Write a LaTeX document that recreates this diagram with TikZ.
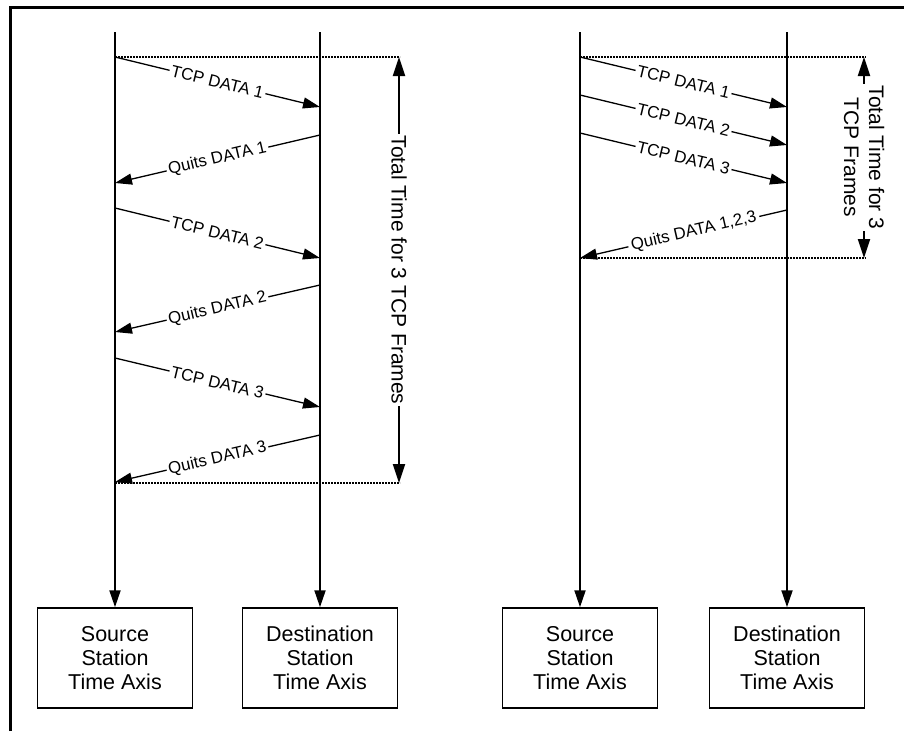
\documentclass[tikz,border=0pt]{standalone}
\usepackage{fontspec}
\setmainfont{Liberation Sans}
\usetikzlibrary{arrows.meta}
\begin{document}
\begin{tikzpicture}[x=1pt,y=-1pt,
  axisline/.style={line width=2pt,-{Triangle[length=17pt,width=11pt]}},
  msg/.style={line width=1.3pt,-{Triangle[length=17pt,width=11pt]}},
  msglabel/.style={midway,sloped,fill=white,inner sep=2pt,font=\fontsize{16.8}{19}\selectfont},
  timebar/.style={line width=2pt,{Triangle[length=19pt,width=12pt]}-{Triangle[length=19pt,width=12pt]}},
  timelabel/.style={midway,rotate=-90,fill=white,inner sep=2pt,font=\fontsize{21}{25}\selectfont,align=center},
  dotline/.style={line width=1.8pt,dash pattern=on 2pt off 1pt},
  station/.style={draw,line width=1.5pt,minimum width=155pt,minimum height=100pt,align=center,inner sep=0pt,font=\fontsize{21.5}{24}\selectfont},
  frameline/.style={line width=3.5pt}]

\useasboundingbox (0,0) rectangle (904,731);

% open frame: top and left edges only
\draw[frameline] (10.5,731) -- (10.5,7.5) -- (904,7.5);

% ---------- left exchange: one acknowledgement per frame ----------
\node[station] (srcL) at (115,658) {Source\\Station\\Time Axis};
\node[station] (dstL) at (320,658) {Destination\\Station\\Time Axis};
\coordinate (srcLtop) at (115,32);
\coordinate (dstLtop) at (320,32);

\coordinate (l0) at (115,57);   \coordinate (l0e) at (400,57);
\coordinate (l9) at (115,483);  \coordinate (l9e) at (400,483);
\draw[dotline] (l0) -- (l0e);
\draw[dotline] (l9) -- (l9e);

\draw[axisline] (srcLtop) -- (srcL.north);
\draw[axisline] (dstLtop) -- (dstL.north);

\coordinate (l1s) at (115,57);  \coordinate (l1d) at (320,107);
\coordinate (l2d) at (320,135); \coordinate (l2s) at (115,183);
\coordinate (l3s) at (115,208); \coordinate (l3d) at (320,258);
\coordinate (l4d) at (320,285); \coordinate (l4s) at (115,332);
\coordinate (l5s) at (115,358); \coordinate (l5d) at (320,407);
\coordinate (l6d) at (320,435); \coordinate (l6s) at (115,482);

\draw[msg] (l1s) -- node[msglabel] {TCP DATA 1} (l1d);
\draw[msg] (l2d) -- node[msglabel] {Quits DATA 1} (l2s);
\draw[msg] (l3s) -- node[msglabel] {TCP DATA 2} (l3d);
\draw[msg] (l4d) -- node[msglabel] {Quits DATA 2} (l4s);
\draw[msg] (l5s) -- node[msglabel] {TCP DATA 3} (l5d);
\draw[msg] (l6d) -- node[msglabel] {Quits DATA 3} (l6s);

\coordinate (tLtop) at (399,57);
\coordinate (tLbot) at (399,483);
\draw[timebar] (tLtop) -- node[timelabel] {Total Time for 3 TCP Frames} (tLbot);

% ---------- right exchange: one acknowledgement for three frames ----------
\node[station] (srcR) at (580,658) {Source\\Station\\Time Axis};
\node[station] (dstR) at (787,658) {Destination\\Station\\Time Axis};
\coordinate (srcRtop) at (580,32);
\coordinate (dstRtop) at (787,32);

\coordinate (r0) at (580,57);   \coordinate (r0e) at (866,57);
\coordinate (r9) at (580,258);  \coordinate (r9e) at (866,258);
\draw[dotline] (r0) -- (r0e);
\draw[dotline] (r9) -- (r9e);

\draw[axisline] (srcRtop) -- (srcR.north);
\draw[axisline] (dstRtop) -- (dstR.north);

\coordinate (r1s) at (580,57);  \coordinate (r1d) at (787,107);
\coordinate (r2s) at (580,95);  \coordinate (r2d) at (787,145);
\coordinate (r3s) at (580,133); \coordinate (r3d) at (787,183);
\coordinate (r4d) at (787,210); \coordinate (r4s) at (580,258);

\draw[msg] (r1s) -- node[msglabel] {TCP DATA 1} (r1d);
\draw[msg] (r2s) -- node[msglabel] {TCP DATA 2} (r2d);
\draw[msg] (r3s) -- node[msglabel] {TCP DATA 3} (r3d);
\draw[msg] (r4d) -- node[msglabel,pos=0.45,inner sep=3pt] {Quits DATA 1,2,3} (r4s);

\coordinate (tRtop) at (864,57);
\coordinate (tRbot) at (864,258);
\draw[timebar] (tRtop) -- node[timelabel] {Total Time for 3\\TCP Frames} (tRbot);

\end{tikzpicture}
\end{document}
